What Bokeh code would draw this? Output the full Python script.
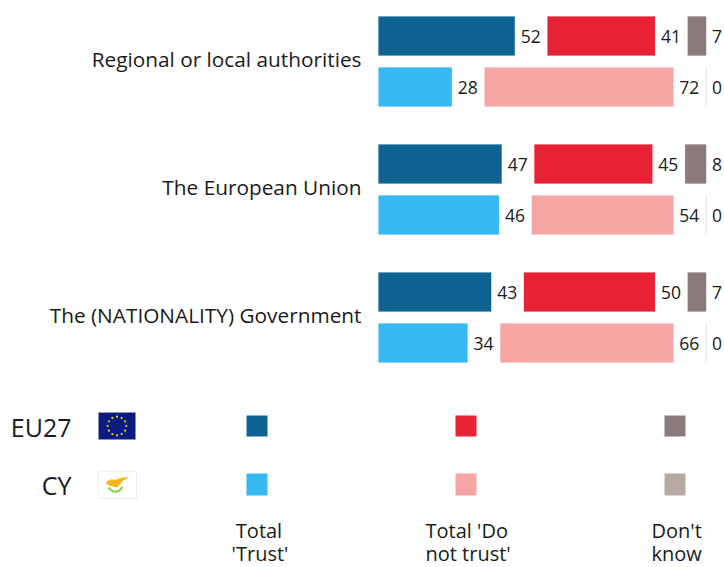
import math
from bokeh.plotting import figure
from bokeh.embed import file_html
from bokeh.resources import INLINE
from bokeh.models import Range1d, ColumnDataSource
from bokeh.core.properties import value

categories = ["Regional or local authorities", "The European Union", "The (NATIONALITY) Government"]
eu_trust = [52, 47, 43]
eu_distrust = [41, 45, 50]
eu_dk = [7, 8, 7]
cy_trust = [28, 46, 34]
cy_distrust = [72, 54, 66]
cy_dk = [0, 0, 0]
colors_eu = ["#0D6292", "#E62234", "#8A7A7C"]
colors_cy = ["#37B8F2", "#F6A5A4", "#B7A8A0"]
FONT = "Open Sans"
TEXT = "#1a1a1a"

W, H = 724, 567
PX = 2.62          # px per percentage point
X0 = 378           # px of the value zero
GAP = 32.8 / PX    # gap between segments in value units

p = figure(width=W, height=H, output_backend="svg", toolbar_location=None,
           x_range=Range1d(0, W), y_range=Range1d(H, 0), min_border=0,
           outline_line_color=None, background_fill_color="white",
           border_fill_color="white")
p.axis.visible = False
p.grid.visible = False


def sx(v):
    return X0 + v * PX


def put_text(x, y, text, size, align="left", color=TEXT):
    p.text([x], [y], text=[text], text_font=value(FONT), text_font_size=size,
           text_align=align, text_baseline="middle", text_color=color)


def row(vals, top, colors):
    start = 0.0
    lefts, rights, labels, cols = [], [], [], []
    for v, c in zip(vals, colors):
        lefts.append(sx(start))
        rights.append(sx(start + v))
        labels.append(str(v))
        cols.append(c)
        start += v + GAP
    src = ColumnDataSource(dict(l=lefts, r=rights, t=[top] * 3, b=[top + 39] * 3,
                                c=cols, lab=labels, lx=[r + 6 for r in rights],
                                ly=[top + 19.5] * 3))
    p.quad(left="l", right="r", top="t", bottom="b", fill_color="c", line_color="c",
           line_width=0.5, line_alpha=0.4, source=src)
    p.text(x="lx", y="ly", text="lab", text_font=value(FONT), text_font_size="17.5px",
           text_baseline="middle", text_align="left", text_color=TEXT, source=src)


for i, name in enumerate(categories):
    top = 16 + 128 * i
    row([eu_trust[i], eu_distrust[i], eu_dk[i]], top, colors_eu)
    row([cy_trust[i], cy_distrust[i], cy_dk[i]], top + 51, colors_cy)
    put_text(361, top + 42.5, name, "20.8px", "right")

# legend row labels
put_text(71, 426, "EU27", "25px", "right")
put_text(71, 484, "CY", "25px", "right")

# EU flag
p.quad(left=[98], right=[135], top=[412], bottom=[439], fill_color="#0B1B7F",
       line_color="#8E93C8", line_width=0.6)
sx_ = [116.5 + 9.3 * math.sin(2 * math.pi * k / 12) for k in range(12)]
sy_ = [425.5 - 9.3 * math.cos(2 * math.pi * k / 12) for k in range(12)]
p.scatter(sx_, sy_, marker="circle", size=2.2, fill_color="#E8D21D", line_color=None)

# Cyprus flag
p.quad(left=[98], right=[136], top=[470.5], bottom=[498], fill_color="white",
       line_color="#E6E6E6", line_width=0.8)
p.patch([106, 110, 116, 122, 128, 123, 120, 117, 112, 106],
        [481, 479, 479, 477, 476.5, 480, 483, 487, 486, 484],
        fill_color="#F6B51E", line_color=None)
p.line([108, 111, 115, 119, 122], [487, 490, 491.5, 490, 486.5],
       line_color="#8CD24A", line_width=2.2)

# legend swatches
for cx, ce, cc in zip([246, 455, 664], colors_eu, colors_cy):
    p.quad(left=[cx], right=[cx + 21], top=[415], bottom=[436],
           fill_color=ce, line_color=None)
    p.quad(left=[cx], right=[cx + 21], top=[473], bottom=[495],
           fill_color=cc, line_color=None)

put_text(258.5, 530, "Total", "20px", "center")
put_text(259.5, 553, "'Trust'", "20px", "center")
put_text(425, 530, "Total 'Do", "20px")
put_text(425, 553, "not trust'", "20px")
put_text(651, 530, "Don't", "20px")
put_text(651, 553, "know", "20px")

open("out.html", "w").write(file_html(p, INLINE))
